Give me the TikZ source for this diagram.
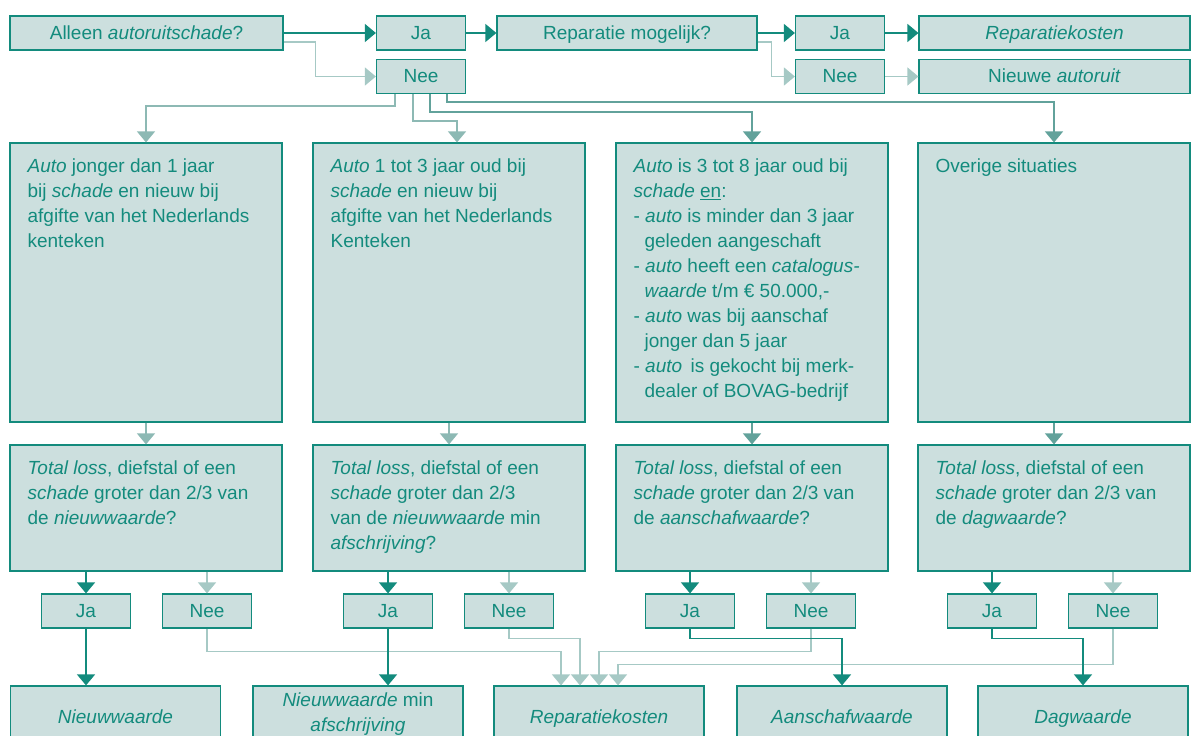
\documentclass[tikz,border=0pt]{standalone}
\usepackage{fontspec}
\setmainfont{Liberation Sans}
\usepackage{xcolor}
\usetikzlibrary{arrows.meta}
\definecolor{tealdark}{HTML}{138B7D}
\definecolor{tealmid}{HTML}{62A29B}
\definecolor{tealgrey}{HTML}{8DB9B4}
\definecolor{tealpale}{HTML}{A6C9C5}
\definecolor{boxfill}{HTML}{CCDFDE}
\newcommand{\fs}{\fontsize{19}{25}\selectfont}

\begin{document}
\begin{tikzpicture}[x=1pt, y=-1pt,
    box/.style={draw=tealdark, fill=boxfill, line width=1.2pt, inner sep=0pt, text=tealdark, font=\fs},
    topbox/.style={box, minimum height=34pt, text height=14pt, text depth=2pt},
    yn/.style={box, minimum width=89pt, minimum height=34pt, text height=14pt, text depth=2pt},
    colbox/.style={box, minimum width=272pt, minimum height=279pt},
    qbox/.style={box, minimum width=272pt, minimum height=126pt},
    endbox/.style={box, minimum width=210pt, minimum height=56pt, align=center},
    onel/.style={text height=20pt, text depth=2pt},
    txt/.style={anchor=north west, inner sep=0pt, text=tealdark, align=left, font=\fs},
    jaline/.style={draw=tealdark, line width=1.4pt, -{Triangle[width=18pt,length=11pt]}},
    neeline/.style={draw=tealpale, line width=1.4pt, -{Triangle[width=18pt,length=11pt]}},
    greyline/.style={draw=tealgrey, line width=1.4pt, -{Triangle[width=18pt,length=11pt]}},
    midline/.style={draw=tealmid, line width=1.4pt, -{Triangle[width=18pt,length=11pt]}}]
    \clip (0,0) rectangle (1191,736);

    \node[topbox, minimum width=273pt] (alleen) at (146.5,33) {Alleen \textit{autoruitschade}?};
    \node[yn] (ja0) at (421,33) {Ja};
    \node[topbox, minimum width=260pt] (mogelijk) at (627,33) {Reparatie mogelijk?};
    \node[yn] (ja00) at (840,33) {Ja};
    \node[topbox, minimum width=271pt] (kosten0) at (1054.5,33) {\textit{Reparatiekosten}};
    \node[yn] (nee0) at (421,76.5) {Nee};
    \node[yn] (nee00) at (840,76.5) {Nee};
    \node[topbox, minimum width=271pt] (ruit) at (1054.5,76.5) {Nieuwe \textit{autoruit}};

    \node[colbox] (col1) at (146,282.5) {};
    \node[colbox] (col2) at (449,282.5) {};
    \node[colbox] (col3) at (752,282.5) {};
    \node[colbox] (col4) at (1054,282.5) {};

    \node[txt] (col1t) at ([shift={(18,16)}]col1.north west) {\textit{Auto} jonger dan 1 jaar\\ bij \textit{schade} en nieuw bij\\ afgifte van het Nederlands\\ kenteken};
    \node[txt] (col2t) at ([shift={(18,16)}]col2.north west) {\textit{Auto} 1 tot 3 jaar oud bij\\ \textit{schade} en nieuw bij\\ afgifte van het Nederlands\\ Kenteken};
    \node[txt] (col3t) at ([shift={(18,16)}]col3.north west) {\textit{Auto} is 3 tot 8 jaar oud bij\\ \textit{schade} \underline{en}:\\
        - \textit{auto} is minder dan 3 jaar\\ \hspace*{11pt}geleden aangeschaft\\
        - \textit{auto} heeft een \textit{catalogus-}\\ \hspace*{11pt}\textit{waarde} t/m € 50.000,-\\
        - \textit{auto} was bij aanschaf\\ \hspace*{11pt}jonger dan 5 jaar\\
        - \textit{auto}\, is gekocht bij merk-\\ \hspace*{11pt}dealer of BOVAG-bedrijf};
    \node[txt] (col4t) at ([shift={(18,16)}]col4.north west) {Overige situaties};

    \node[qbox] (q1) at (146,508) {};
    \node[qbox] (q2) at (449,508) {};
    \node[qbox] (q3) at (752,508) {};
    \node[qbox] (q4) at (1054,508) {};

    \node[txt] (q1t) at ([shift={(18,16)}]q1.north west) {\textit{Total loss}, diefstal of een\\ \textit{schade} groter dan 2/3 van\\ de \textit{nieuwwaarde}?};
    \node[txt] (q2t) at ([shift={(18,16)}]q2.north west) {\textit{Total loss}, diefstal of een\\ \textit{schade} groter dan 2/3\\ van de \textit{nieuwwaarde} min\\ \textit{afschrijving}?};
    \node[txt] (q3t) at ([shift={(18,16)}]q3.north west) {\textit{Total loss}, diefstal of een\\ \textit{schade} groter dan 2/3 van\\ de \textit{aanschafwaarde}?};
    \node[txt] (q4t) at ([shift={(18,16)}]q4.north west) {\textit{Total loss}, diefstal of een\\ \textit{schade} groter dan 2/3 van\\ de \textit{dagwaarde}?};

    \node[yn] (ja1) at (86,611) {Ja};
    \node[yn] (nee1) at (207,611) {Nee};
    \node[yn] (ja2) at (388,611) {Ja};
    \node[yn] (nee2) at (509,611) {Nee};
    \node[yn] (ja3) at (690,611) {Ja};
    \node[yn] (nee3) at (811,611) {Nee};
    \node[yn] (ja4) at (992,611) {Ja};
    \node[yn] (nee4) at (1113,611) {Nee};

    \node[endbox, onel] (nw) at (115.5,714) {\textit{Nieuwwaarde}};
    \node[endbox] (nwm) at (358,714) {\fontsize{19}{20}\selectfont\textit{Nieuwwaarde} min\\ \textit{afschrijving}};
    \node[endbox, onel] (rk) at (599,714) {\textit{Reparatiekosten}};
    \node[endbox, onel] (aw) at (842,714) {\textit{Aanschafwaarde}};
    \node[endbox, onel] (dw) at (1083,714) {\textit{Dagwaarde}};

    \draw[neeline] ([yshift=-9pt]alleen.east) -- ++(32,0) |- (nee0.west);
    \draw[neeline] ([yshift=-9pt]mogelijk.east) -- ++(14,0) |- (nee00.west);
    \draw[neeline] (nee00) -- (ruit);
    \draw[jaline] (alleen.east) -- (ja0.west);
    \draw[jaline] (ja0) -- (mogelijk);
    \draw[jaline] (mogelijk.east) -- (ja00.west);
    \draw[jaline] (ja00) -- (kosten0);

    \draw[greyline] ([xshift=-26pt]nee0.south) -- ++(0,12) -| (col1.north);
    \draw[greyline] ([xshift=-8pt]nee0.south) -- ++(0,27) -| ([xshift=8pt]col2.north);
    \draw[midline] ([xshift=9pt]nee0.south) -- ++(0,18) -| (col3.north);
    \draw[midline] ([xshift=26pt]nee0.south) -- ++(0,8) -| (col4.north);

    \draw[greyline] (col1) -- (q1);
    \draw[greyline] (col2) -- (q2);
    \draw[midline] (col3) -- (q3);
    \draw[midline] (col4) -- (q4);

    \draw[jaline] (ja1.north |- q1.south) -- (ja1.north);
    \draw[neeline] (nee1.north |- q1.south) -- (nee1.north);
    \draw[jaline] (ja2.north |- q2.south) -- (ja2.north);
    \draw[neeline] (nee2.north |- q2.south) -- (nee2.north);
    \draw[jaline] (ja3.north |- q3.south) -- (ja3.north);
    \draw[neeline] (nee3.north |- q3.south) -- (nee3.north);
    \draw[jaline] (ja4.north |- q4.south) -- (ja4.north);
    \draw[neeline] (nee4.north |- q4.south) -- (nee4.north);

    \draw[neeline] (nee1.south) -- ++(0,23) -| ([xshift=-38pt]rk.north);
    \draw[neeline] (nee2.south) -- ++(0,10) -| ([xshift=-19pt]rk.north);
    \draw[neeline] (nee3.south) -- ++(0,23) -| (rk.north);
    \draw[neeline] (nee4.south) -- ++(0,36) -| ([xshift=19pt]rk.north);
    \draw[jaline] (ja1.south) -- (ja1.south |- nw.north);
    \draw[jaline] (ja2.south) -- (ja2.south |- nwm.north);
    \draw[jaline] (ja3.south) -- ++(0,10) -| (aw.north);
    \draw[jaline] (ja4.south) -- ++(0,10) -| (dw.north);
\end{tikzpicture}
\end{document}
